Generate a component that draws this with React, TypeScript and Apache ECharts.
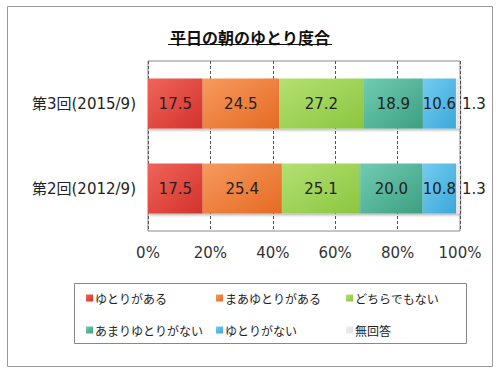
import React, { useEffect, useRef } from "react";
import * as echarts from "echarts";

const categories = ["第3回(2015/9)", "第2回(2012/9)"];
const seriesNames = ["ゆとりがある", "まあゆとりがある", "どちらでもない", "あまりゆとりがない", "ゆとりがない", "無回答"];
const values = [
  [17.5, 17.5],
  [24.5, 25.4],
  [27.2, 25.1],
  [18.9, 20.0],
  [10.6, 10.8],
  [1.3, 1.3],
];
const xTicks = [0, 20, 40, 60, 80, 100];
const colorsLight = ["#f0645a", "#f79a5e", "#b4e072", "#70ccb2", "#72ccf2", "#efefef"];
const colorsDark = ["#d2322b", "#e56a22", "#8ac63f", "#3c9f82", "#3ca8d8", "#e2e2e2"];
const legendColors = ["#e0443c", "#ee7e3c", "#9cd250", "#4cb294", "#4cb8e4", "#e4e4e4"];

const FONT = "'DejaVu Sans', 'Noto Sans CJK JP', sans-serif";
const JFONT = "'Noto Sans CJK JP', 'DejaVu Sans', sans-serif";

export default function App() {
  const ref = useRef<HTMLDivElement>(null);
  useEffect(() => {
    document.body.style.margin = "0";
    if (!ref.current) return;
    const chart = echarts.init(ref.current, null, { renderer: "svg" });
    const legendPos = [
      [86, 292], [216, 292], [346, 292],
      [86, 324], [216, 324], [346, 324],
    ];
    const option: any = {
      animation: false,
      backgroundColor: "#ffffff",
      color: legendColors,
      title: {
        text: "平日の朝のゆとり度合",
        left: "center",
        top: 24,
        textStyle: { fontFamily: JFONT, fontSize: 16, fontWeight: "bold", color: "#111" },
      },
      legend: seriesNames.map((n, i) => ({
        data: [n],
        left: legendPos[i][0],
        top: legendPos[i][1],
        itemWidth: 7,
        itemHeight: 7,
        itemGap: 0,
        padding: 0,
        icon: "rect",
        selectedMode: false,
        textStyle: { fontFamily: JFONT, fontSize: 12, color: "#222", padding: [0, 0, 0, -3] },
      })),
      grid: {
        left: 148,
        right: 40,
        top: 61,
        bottom: 144,
        show: true,
        borderColor: "#8a8a8a",
        borderWidth: 1,
      },
      xAxis: {
        type: "value",
        min: 0,
        max: 100,
        interval: 20,
        axisLine: { show: false },
        axisTick: { show: false },
        splitLine: { show: true, lineStyle: { color: "#555", type: [3, 2], width: 1 } },
        axisLabel: {
          margin: 14,
          fontFamily: FONT,
          fontSize: 15,
          color: "#333",
          formatter: (v: number) => (xTicks.includes(v) ? v + "%" : ""),
        },
      },
      yAxis: {
        type: "category",
        data: categories,
        inverse: true,
        axisLine: { show: false },
        axisTick: { show: false },
        axisLabel: { margin: 12, fontFamily: FONT, fontSize: 15, color: "#222" },
      },
      series: seriesNames.map((n, i) => ({
        name: n,
        type: "bar",
        stack: "total",
        barWidth: 50,
        data: values[i],
        itemStyle: {
          color: new echarts.graphic.LinearGradient(0, 0, 1, 1, [
            { offset: 0, color: colorsLight[i] },
            { offset: 1, color: colorsDark[i] },
          ]),
          borderWidth: 0,
          shadowColor: "rgba(0,0,0,0.25)",
          shadowOffsetX: 1,
          shadowOffsetY: 2,
          shadowBlur: 2,
        },
        label: {
          show: true,
          position: i === 5 ? "right" : "inside",
          distance: 2,
          fontFamily: FONT,
          fontSize: 15,
          color: "#222",
          formatter: (p: any) => Number(p.value).toFixed(1),
        },
      })),
      graphic: [
        {
          type: "rect",
          shape: { x: 7.5, y: 6.5, width: 485, height: 360 },
          style: { fill: "none", stroke: "#9a9a9a", lineWidth: 1 },
          z: -1,
        },
        {
          type: "rect",
          shape: { x: 74.5, y: 283.5, width: 392, height: 60 },
          style: { fill: "none", stroke: "#888", lineWidth: 1 },
        },
        {
          type: "line",
          shape: { x1: 168, y1: 44.5, x2: 332, y2: 44.5 },
          style: { stroke: "#111", lineWidth: 1 },
        },
      ],
    };
    chart.setOption(option);
    return () => chart.dispose();
  }, []);
  return <div ref={ref} style={{ width: 500, height: 375 }} />;
}
